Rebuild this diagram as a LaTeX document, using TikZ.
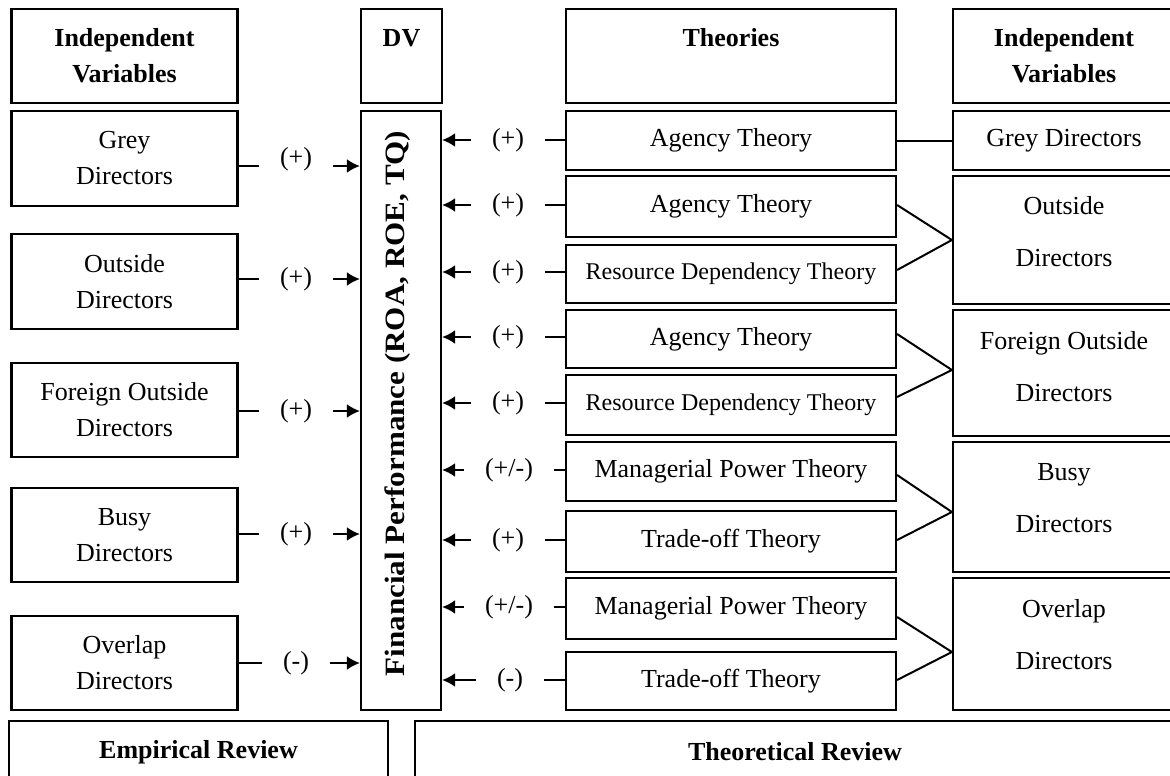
\documentclass[tikz,border=0pt]{standalone}
\usepackage{graphicx}
\usepackage{fontspec}
\setmainfont{Liberation Serif}
\usetikzlibrary{arrows.meta,calc}
\begin{document}
\begin{tikzpicture}[x=1pt,y=-1pt,
  box/.style={draw, line width=2.2pt, inner sep=0pt, align=center, font=\fontsize{26}{36}\selectfont},
  hbox/.style={box, font=\fontsize{26}{36}\selectfont\bfseries},
  rdtbox/.style={box, font=\fontsize{24}{36}\selectfont},
  rtxt/.style={inner sep=0pt, align=center, font=\fontsize{26}{52}\selectfont},
  sign/.style={inner xsep=21pt, inner ysep=0pt, font=\fontsize{26}{36}\selectfont},
  conn/.style={line width=2.2pt},
  arr/.style={conn, -{Latex[length=13pt,width=14pt]}},
  fan/.style={line width=2pt}
]
\useasboundingbox (0,0) rectangle (1170,776);
\clip (0,0) rectangle (1170,776);

% headers
\node[hbox, minimum width=226pt, minimum height=94pt] (hIVL) at (124.5,56) {Independent\\Variables};
\node[hbox, minimum width=81pt, minimum height=94pt] (hDV) at (401.5,56) {DV\\\phantom{V}};
\node[hbox, minimum width=330pt, minimum height=94pt] (hTh) at (731,56) {Theories\\\phantom{V}};
\node[hbox, minimum width=222pt, minimum height=94pt] (hIVR) at (1064,56) {Independent\\Variables};

% left independent variables
\node[box, minimum width=226pt, minimum height=95pt] (gL) at (124.5,158.5) {Grey\\Directors};
\node[box, minimum width=226pt, minimum height=95pt] (oL) at (124.5,281.5) {Outside\\Directors};
\node[box, minimum width=226pt, minimum height=94pt] (fL) at (124.5,410) {Foreign Outside\\Directors};
\node[box, minimum width=226pt, minimum height=94pt] (bL) at (124.5,535) {Busy\\Directors};
\node[box, minimum width=226pt, minimum height=94pt] (ovL) at (124.5,663) {Overlap\\Directors};

% DV
\node[box, minimum width=80pt, minimum height=599pt] (dv) at (401,410.5) {};
\node[rotate=90, inner sep=0pt, font=\fontsize{28}{30}\selectfont\bfseries] (fp) at (398,403.5)
  {\scalebox{1.11}[1]{Financial Performance (ROA, ROE, TQ)}};

% theories
\node[box, minimum width=330pt, minimum height=59pt] (t1) at (731,140.5) {Agency Theory};
\node[box, minimum width=330pt, minimum height=61pt] (t2) at (731,206.5) {Agency Theory};
\node[rdtbox, minimum width=330pt, minimum height=58pt] (t3) at (731,274) {Resource Dependency Theory};
\node[box, minimum width=330pt, minimum height=58pt] (t4) at (731,339) {Agency Theory};
\node[rdtbox, minimum width=330pt, minimum height=60pt] (t5) at (731,405) {Resource Dependency Theory};
\node[box, minimum width=330pt, minimum height=59pt] (t6) at (731,471.5) {Managerial Power Theory};
\node[box, minimum width=330pt, minimum height=61pt] (t7) at (731,541.5) {Trade-off Theory};
\node[box, minimum width=330pt, minimum height=61pt] (t8) at (731,608.5) {Managerial Power Theory};
\node[box, minimum width=330pt, minimum height=58pt] (t9) at (731,681) {Trade-off Theory};

% right independent variables
\node[box, minimum width=222pt, minimum height=59pt] (r1) at (1064,140.5) {Grey Directors};
\node[box, minimum width=222pt, minimum height=128pt] (r2) at (1064,240) {};
\node[box, minimum width=222pt, minimum height=126pt] (r3) at (1064,373) {};
\node[box, minimum width=222pt, minimum height=130pt] (r4) at (1064,507) {};
\node[box, minimum width=222pt, minimum height=132pt] (r5) at (1064,644) {};
\node[rtxt] (r2t) at ([yshift=8pt]r2.center) {Outside\\Directors};
\node[rtxt] (r3t) at ([yshift=6.5pt]r3.center) {Foreign Outside\\Directors};
\node[rtxt] (r4t) at ([yshift=8.5pt]r4.center) {Busy\\Directors};
\node[rtxt] (r5t) at ([yshift=9.5pt]r5.center) {Overlap\\Directors};

% bottom
\node[hbox, minimum width=379pt, minimum height=62pt] (emp) at (198.5,752) {Empirical Review};
\node[hbox, minimum width=760pt, minimum height=62pt] (theo) at (795,752) {Theoretical Review};

% left connectors
\node[sign] (s1) at (296,159) {(+)};
\coordinate (c1) at (296,166);
\draw[conn] (c1 -| gL.east) -- (c1 -| s1.west);
\draw[arr] (c1 -| s1.east) -- (c1 -| dv.west);
\node[sign] (s2) at (296,279) {(+)};
\node[sign] (s3) at (296,411) {(+)};
\node[sign] (s4) at (296,534) {(+)};
\node[sign] (s5) at (296,663) {(-)};
\foreach \s/\b in {s2/oL,s3/fL,s4/bL,s5/ovL}{
  \draw[conn] (\s.west -| \b.east) -- (\s.west);
  \draw[arr] (\s.east) -- (\s.east -| dv.west);
}

% right connectors
\node[sign] (a1) at (508,140) {(+)};
\node[sign] (a2) at (508,205) {(+)};
\node[sign] (a3) at (508,272) {(+)};
\node[sign] (a4) at (508,337) {(+)};
\node[sign] (a5) at (508,403) {(+)};
\node[sign] (a6) at (509,470) {(+/-)};
\node[sign] (a7) at (508,540) {(+)};
\node[sign] (a8) at (509,607) {(+/-)};
\node[sign] (a9) at (510,680) {(-)};
\foreach \a/\t in {a1/t1,a2/t2,a3/t3,a4/t4,a5/t5,a6/t6,a7/t7,a8/t8,a9/t9}{
  \draw[conn] (\a.east) -- (\a.east -| \t.west);
  \draw[arr] (\a.west) -- (\a.west -| dv.east);
}

% theory to variable links
\draw[fan] (t1.east) -- (r1.west);
\draw[fan] ([yshift=1.5pt]t2.east) -- (r2.west);
\draw[fan] ([yshift=4pt]t3.east) -- (r2.west);
\draw[fan] ([yshift=5pt]t4.east) -- ([yshift=3pt]r3.west);
\draw[fan] ([yshift=8pt]t5.east) -- ([yshift=3pt]r3.west);
\draw[fan] ([yshift=-3.5pt]t6.east) -- ([yshift=-5pt]r4.west);
\draw[fan] ([yshift=1.5pt]t7.east) -- ([yshift=-5pt]r4.west);
\draw[fan] ([yshift=-8.5pt]t8.east) -- ([yshift=-8pt]r5.west);
\draw[fan] ([yshift=1pt]t9.east) -- ([yshift=-8pt]r5.west);
\end{tikzpicture}
\end{document}
